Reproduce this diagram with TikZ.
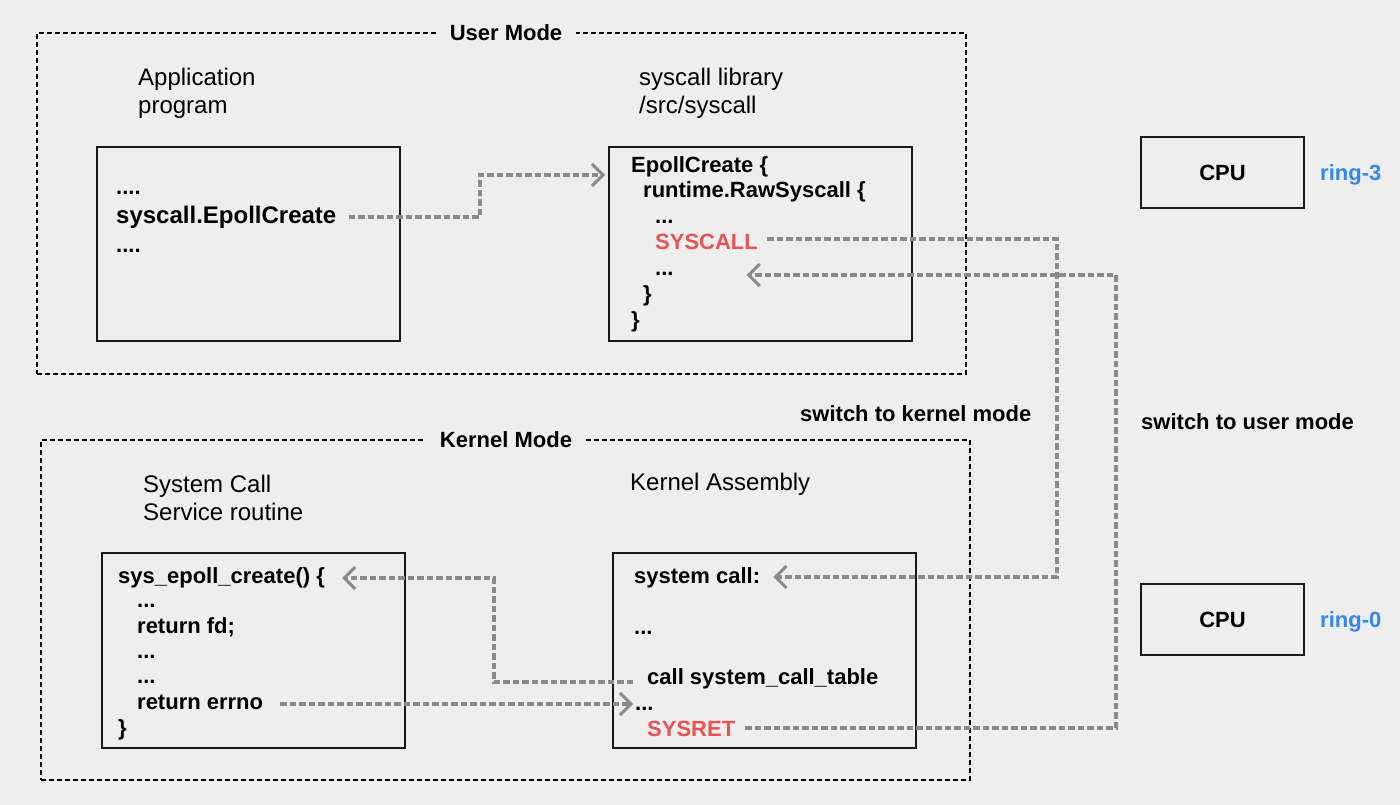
\documentclass[tikz,border=0pt]{standalone}
\usepackage{fontspec}
\setmainfont{Liberation Sans}
\usetikzlibrary{arrows.meta}
\definecolor{bg}{RGB}{238,238,238}
\definecolor{arrgray}{RGB}{138,138,138}
\definecolor{sysred}{RGB}{232,84,84}
\definecolor{ringblue}{RGB}{52,134,240}
\definecolor{boxline}{RGB}{25,25,25}
\begin{document}
\begin{tikzpicture}[x=1pt,y=-1pt,
  region/.style={draw=black, line width=1.4pt, dash pattern=on 5pt off 3pt, inner sep=0pt, outer sep=0pt, anchor=north west},
  modelabel/.style={fill=bg, inner xsep=14pt, inner ysep=3pt, anchor=base, font=\fontsize{22}{26}\selectfont\bfseries},
  codebox/.style={draw=boxline, line width=2pt, inner sep=0pt, outer sep=0pt, anchor=north west},
  lbl/.style={inner sep=0pt, anchor=base west, font=\fontsize{24}{28}\selectfont},
  code/.style={inner sep=0pt, anchor=base west, font=\fontsize{22}{26}\selectfont\bfseries},
  redcode/.style={code, text=sysred},
  ring/.style={inner sep=0pt, anchor=base west, text=ringblue, font=\fontsize{22}{26}\selectfont\bfseries},
  conn/.style={draw=arrgray, line width=3.3pt, dash pattern=on 6.5pt off 3pt,
    -{Straight Barb[length=11pt,width=22pt,line width=3pt]}}
]
\useasboundingbox (0,0) rectangle (1400,805);
\fill[bg] (0,0) rectangle (1400,805);

% regions
\node[region, minimum width=929pt, minimum height=341pt] (user) at (37,33) {};
\node[region, minimum width=929pt, minimum height=340pt] (kernel) at (41,440) {};
\node[modelabel] (uml) at (506,41) {User Mode};
\node[modelabel] (kml) at (506,447) {Kernel Mode};

% headings
\node[lbl] (app1) at (138,86) {Application};
\node[lbl] (app2) at (138,114) {program};
\node[lbl] (lib1) at (639,86) {syscall library};
\node[lbl] (lib2) at (639,114) {/src/syscall};
\node[lbl] (scs1) at (143,492) {System Call};
\node[lbl] (scs2) at (143,520) {Service routine};
\node[lbl] (kas) at (630,490) {Kernel Assembly};

% boxes
\node[codebox, minimum width=303pt, minimum height=194pt] (appbox) at (97,147) {};
\node[codebox, minimum width=303pt, minimum height=194pt] (libbox) at (609,147) {};
\node[codebox, minimum width=303pt, minimum height=195pt] (sysbox) at (102,553) {};
\node[codebox, minimum width=303pt, minimum height=195pt] (asmbox) at (613,553) {};
\node[codebox, minimum width=163pt, minimum height=71pt, font=\fontsize{22}{26}\selectfont\bfseries] (cpu3) at (1141,137) {CPU};
\node[codebox, minimum width=163pt, minimum height=71pt, font=\fontsize{22}{26}\selectfont\bfseries] (cpu0) at (1141,584) {CPU};
\node[ring] (r3) at (1320,181) {ring-3};
\node[ring] (r0) at (1320,627) {ring-0};

% app box text
\node[code] (ad1) at (116,195) {....};
\node[code, font=\fontsize{24}{28}\selectfont\bfseries] (epc) at (116,223) {syscall.EpollCreate};
\node[code] (ad2) at (116,252) {....};

% lib box text
\node[code] (l1) at (631,173) {EpollCreate \{};
\node[code] (l2) at (643,198) {runtime.RawSyscall \{};
\node[code] (l3) at (655,224) {...};
\node[redcode] (sc) at (655,249) {SYSCALL};
\node[code] (l5) at (655,275) {...};
\node[code] (l6) at (643,301) {\}};
\node[code] (l7) at (631,327) {\}};

% sys box text
\node[code] (sec) at (118,583) {sys\_epoll\_create() \{};
\node[code] (s2) at (137,607) {...};
\node[code] (s3) at (137,633) {return fd;};
\node[code] (s4) at (137,658) {...};
\node[code] (s5) at (137,683) {...};
\node[code] (rer) at (137,709) {return errno};
\node[code] (s7) at (118,735) {\}};

% asm box text
\node[code] (scl) at (634,583) {system call:};
\node[code] (k2) at (634,634) {...};
\node[code] (cst) at (647,684) {call system\_call\_table};
\node[code] (kd2) at (635,710) {...};
\node[redcode] (srt) at (647,736) {SYSRET};

% switch labels
\node[code] (swk) at (800,421) {switch to kernel mode};
\node[code] (swu) at (1141,429) {switch to user mode};

% connectors
\coordinate (k1) at (480,175);
\coordinate (k2c) at (1057,577);
\coordinate (k3) at (1116,275);
\coordinate (k4) at (494,578);

\draw[conn] ([xshift=12pt,yshift=6pt]epc.base east) -| (k1) -- ([xshift=-4pt]k1 -| libbox.west);
\draw[conn] ([xshift=9pt,yshift=10pt]sc.base east) -| (k2c) -- ([xshift=13pt,yshift=6pt]scl.base east);
\draw[conn] ([xshift=10pt,yshift=8pt]srt.base east) -| (k3) -- ([xshift=73pt]l5.base east);
\draw[conn] ([xshift=-14pt,yshift=2pt]cst.base west) -| (k4) -- ([xshift=17pt,yshift=5pt]sec.base east);
\draw[conn] ([xshift=17pt,yshift=5pt]rer.base east) -- ([xshift=-2pt,yshift=5pt]rer.base east -| kd2.base west);
\end{tikzpicture}
\end{document}
